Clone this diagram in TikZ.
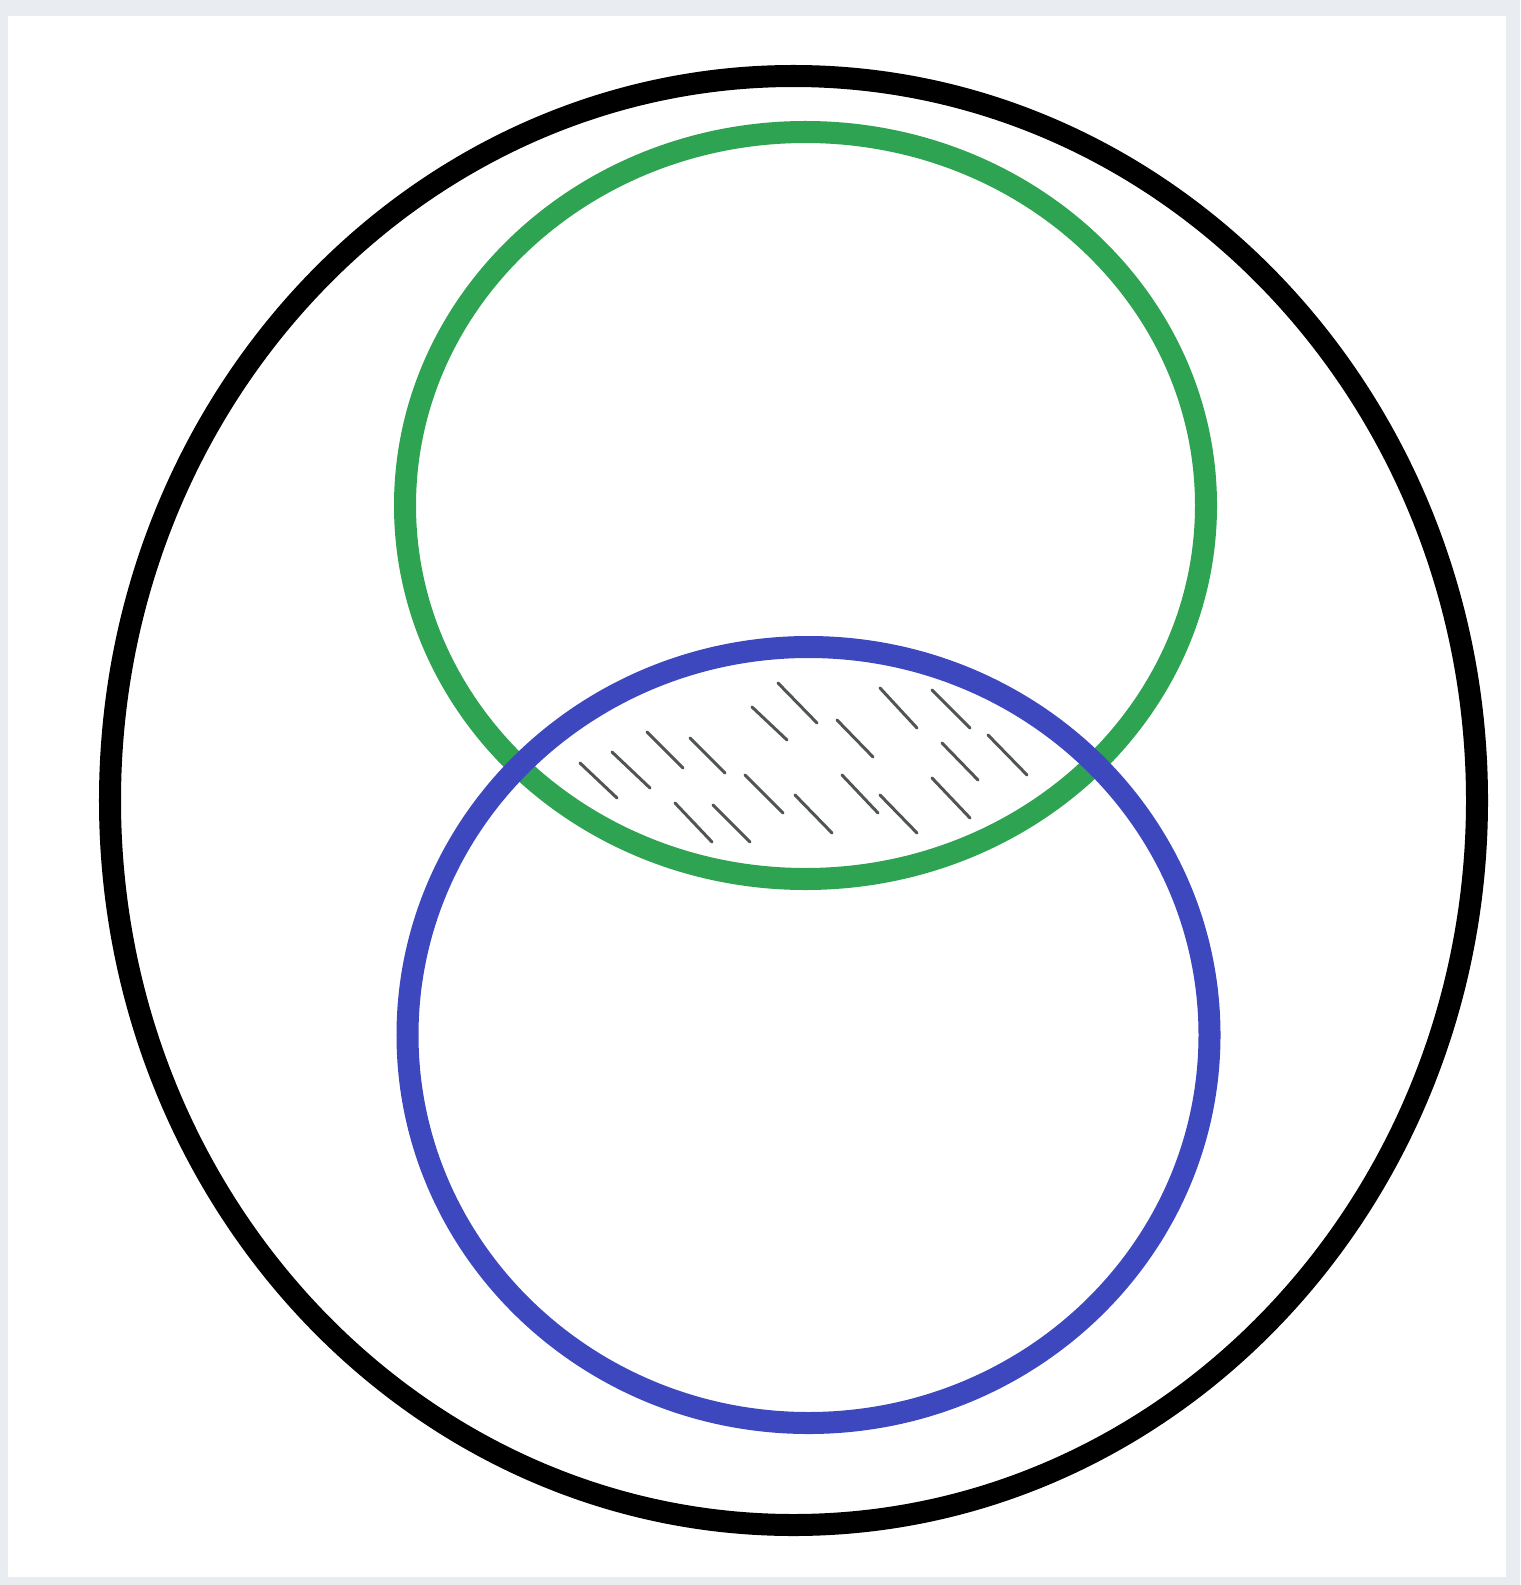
\documentclass[tikz,border=0pt]{standalone}
\definecolor{bgframe}{HTML}{E9EDF2}
\definecolor{setgreen}{RGB}{46,163,82}
\definecolor{setblue}{RGB}{62,72,190}
\definecolor{hatchgray}{RGB}{80,84,84}
\begin{document}
\begin{tikzpicture}[x=0.01cm,y=-0.01cm,
  ring/.style={line width=0.22cm},
  hatchline/.style={hatchgray,line width=0.03cm,line cap=round}]
\fill[bgframe] (0,0) rectangle (1520,1585);
\fill[white] (8,16) rectangle (1506,1577);
\useasboundingbox (0,0) rectangle (1520,1585);
\coordinate (U) at (793.5,800.5);
\coordinate (G) at (805.5,505.5);
\coordinate (B) at (808.5,1035);
% hatching in the intersection
\foreach \a/\b/\c/\d in {580/763/617/798, 612/752/650/788, 647/732/683/768, 690/738/725/773,
  675/803/712/842, 713/805/750/842, 752/707/787/740, 778/683/817/723, 745/775/783/813,
  795/795/832/833, 837/720/873/757, 842/775/878/813, 880/688/917/728, 880/795/917/833,
  932/690/970/728, 942/743/978/780, 932/778/970/818, 988/735/1027/775}
  \draw[hatchline] (\a,\b) -- (\c,\d);
\draw[ring,black] (U) ellipse [x radius=683.5, y radius=724.5];
\draw[ring,setgreen] (G) ellipse [x radius=400.5, y radius=373.5];
\draw[ring,setblue] (B) ellipse [x radius=401, y radius=388];
\end{tikzpicture}
\end{document}
